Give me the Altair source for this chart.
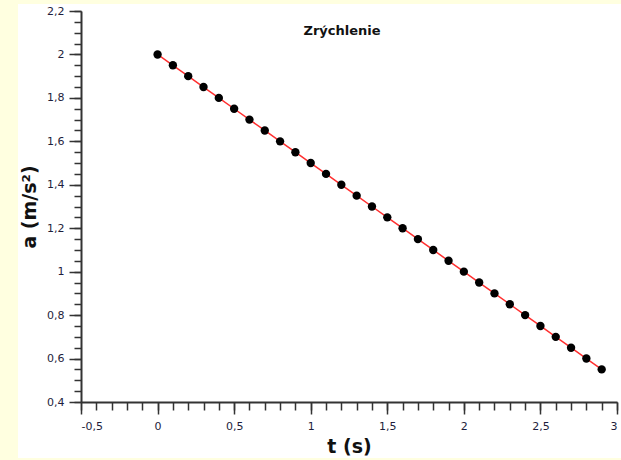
import altair as alt
import pandas as pd

t = [0.0, 0.1, 0.2, 0.3, 0.4, 0.5, 0.6, 0.7, 0.8, 0.9,
     1.0, 1.1, 1.2, 1.3, 1.4, 1.5, 1.6, 1.7, 1.8, 1.9,
     2.0, 2.1, 2.2, 2.3, 2.4, 2.5, 2.6, 2.7, 2.8, 2.9]
a = [2.00, 1.95, 1.90, 1.85, 1.80, 1.75, 1.70, 1.65, 1.60, 1.55,
     1.50, 1.45, 1.40, 1.35, 1.30, 1.25, 1.20, 1.15, 1.10, 1.05,
     1.00, 0.95, 0.90, 0.85, 0.80, 0.75, 0.70, 0.65, 0.60, 0.55]

x_major = [-0.5, 0, 0.5, 1, 1.5, 2, 2.5, 3]
x_minor = [-0.5, -0.4, -0.3, -0.2, -0.1, 0, 0.1, 0.2, 0.3, 0.4, 0.5, 0.6, 0.7, 0.8, 0.9,
           1, 1.1, 1.2, 1.3, 1.4, 1.5, 1.6, 1.7, 1.8, 1.9, 2, 2.1, 2.2, 2.3, 2.4, 2.5,
           2.6, 2.7, 2.8, 2.9, 3]
y_major = [0.4, 0.6, 0.8, 1, 1.2, 1.4, 1.6, 1.8, 2, 2.2]
y_minor = [0.4, 0.45, 0.5, 0.55, 0.6, 0.65, 0.7, 0.75, 0.8, 0.85, 0.9, 0.95, 1,
           1.05, 1.1, 1.15, 1.2, 1.25, 1.3, 1.35, 1.4, 1.45, 1.5, 1.55, 1.6, 1.65,
           1.7, 1.75, 1.8, 1.85, 1.9, 1.95, 2, 2.05, 2.1, 2.15, 2.2]

df = pd.DataFrame({"t": t, "a": a})

FONT = "DejaVu Sans"
LABEL_COLOR = "#1e1e3c"
AX_COLOR = "#333333"
label_expr = "replace(toString(datum.value), '.', ',')"

xs = alt.Scale(domain=[-0.5, 3], nice=False, zero=False)
ys = alt.Scale(domain=[0.4, 2.2], nice=False, zero=False)

x_axis_major = alt.Axis(values=x_major, labelExpr=label_expr, title="t (s)", orient="bottom",
                        grid=False, tickSize=12, tickWidth=1.5, tickColor=AX_COLOR,
                        domainColor=AX_COLOR, domainWidth=2, labelFont=FONT, labelFontSize=11,
                        labelColor=LABEL_COLOR, labelPadding=6, titleFont=FONT, titleFontSize=19,
                        titleFontWeight="bold", titleColor="#111111", titlePadding=6, zindex=1)
y_axis_major = alt.Axis(values=y_major, labelExpr=label_expr, title="a (m/s²)", orient="left",
                        grid=False, tickSize=12, tickWidth=1.5, tickColor=AX_COLOR,
                        domainColor=AX_COLOR, domainWidth=2, labelFont=FONT, labelFontSize=11,
                        labelColor=LABEL_COLOR, labelPadding=5, titleFont=FONT, titleFontSize=19,
                        titleFontWeight="bold", titleColor="#111111", titlePadding=7, zindex=1)
x_axis_minor = alt.Axis(values=x_minor, labels=False, title=None, orient="bottom", grid=False,
                        tickSize=8, tickWidth=1.5, tickColor=AX_COLOR, domain=False, zindex=1)
y_axis_minor = alt.Axis(values=y_minor, labels=False, title=None, orient="left", grid=False,
                        tickSize=7, tickWidth=1.5, tickColor=AX_COLOR, domain=False, zindex=1)

bg = alt.Chart(alt.Data(values=[{}])).mark_rect(color="white", clip=False).encode(
    x=alt.value(-63), x2=alt.value(540), y=alt.value(-7), y2=alt.value(447)
)

base = alt.Chart(df)
line = base.mark_line(color="#ff3030", strokeWidth=1.5).encode(
    x=alt.X("t:Q", scale=xs, axis=x_axis_major),
    y=alt.Y("a:Q", scale=ys, axis=y_axis_major),
)
pts = base.mark_circle(color="#000000", opacity=1, size=70).encode(
    x=alt.X("t:Q", scale=xs, axis=x_axis_major),
    y=alt.Y("a:Q", scale=ys, axis=y_axis_major),
)
minor = base.mark_point(opacity=0).encode(
    x=alt.X("t:Q", scale=xs, axis=x_axis_minor),
    y=alt.Y("a:Q", scale=ys, axis=y_axis_minor),
)

main = alt.layer(line, pts)
chart = alt.layer(bg, main, minor).resolve_axis(x="independent", y="independent").properties(
    width=536, height=391,
    title=alt.TitleParams("Zrýchlenie", font=FONT, fontSize=13, fontWeight="bold",
                          color="#111111", frame="group", baseline="middle", offset=0, dy=40,
                          dx=-7, anchor="middle"),
    autosize=alt.AutoSizeParams(type="none"),
    padding={"left": 81, "top": 11, "right": 4, "bottom": 58},
    background="#ffffe0",
).configure_view(stroke=None)

chart.save("out.html", embed_options={"renderer": "svg", "actions": False})
